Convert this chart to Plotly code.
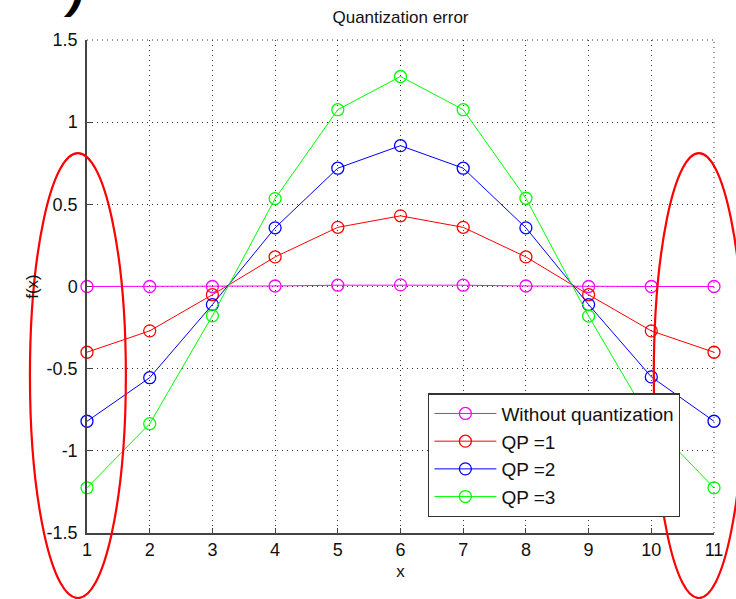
import plotly.graph_objects as go

x_vals = [1, 2, 3, 4, 5, 6, 7, 8, 9, 10, 11]
no_quant = [0, 0, 0, 0.003, 0.008, 0.01, 0.008, 0.003, 0, 0, 0]
qp1 = [-0.40, -0.27, -0.05, 0.18, 0.36, 0.43, 0.36, 0.18, -0.05, -0.27, -0.40]
qp2 = [-0.82, -0.555, -0.11, 0.357, 0.72, 0.857, 0.72, 0.357, -0.11, -0.55, -0.82]
qp3 = [-1.225, -0.835, -0.178, 0.535, 1.076, 1.278, 1.076, 0.537, -0.18, -0.83, -1.225]

series_names = ["Without quantization", "QP =1", "QP =2", "QP =3"]
series_vals = [no_quant, qp1, qp2, qp3]
series_colors = ["#ff00ff", "#ff0000", "#0000ff", "#00ff00"]

x_ticks = list(range(1, 12))
y_ticks = [-1.5, -1, -0.5, 0, 0.5, 1, 1.5]
y_tick_text = ["-1.5", "-1", "-0.5", "0", "0.5", "1", "1.5"]

X_RANGE = [1, 11]
Y_RANGE = [-1.5, 1.5]

FONT = "Liberation Sans, Arial, sans-serif"
TXT = "#111111"

fig = go.Figure()
for name, vals, col in zip(series_names, series_vals, series_colors):
    fig.add_trace(go.Scatter(
        x=x_vals, y=vals, name=name, mode="lines+markers",
        line=dict(color=col, width=1),
        marker=dict(symbol="circle-open", size=12, color=col, line=dict(width=1.3, color=col)),
        cliponaxis=False,
    ))


def to_paper_x(v):
    return (v - X_RANGE[0]) / (X_RANGE[1] - X_RANGE[0])


def to_paper_y(v):
    return (v - Y_RANGE[0]) / (Y_RANGE[1] - Y_RANGE[0])


# highlight ellipses (in data units, drawn in paper space so they are not clipped)
ellipses = [
    (0.09, 1.62, -1.896, 0.812),
    (10.04, 11.48, -1.896, 0.812),
]
for ex0, ex1, ey0, ey1 in ellipses:
    fig.add_shape(type="circle", xref="paper", yref="paper",
                  x0=to_paper_x(ex0), x1=to_paper_x(ex1),
                  y0=to_paper_y(ey0), y1=to_paper_y(ey1),
                  line=dict(color="#ff0000", width=2.2), layer="above")

# dotted border grid at top and right
fig.add_shape(type="line", xref="paper", yref="paper", x0=0, x1=1, y0=1, y1=1,
              line=dict(color="#333333", width=1, dash="1px,4px"))
fig.add_shape(type="line", xref="paper", yref="paper", x0=1, x1=1, y0=0, y1=1,
              line=dict(color="#333333", width=1, dash="1px,4px"))

# cropped ")" from a sub-figure label (only its lower part is inside the page)
fig.add_annotation(text="<b><i>)</i></b>", xref="paper", yref="paper",
                   x=to_paper_x(0.78), y=(533 - 19) / 493, xanchor="center", yanchor="bottom",
                   showarrow=False, font=dict(family=FONT, size=48, color="#000000"))

fig.update_layout(
    width=736, height=599,
    margin=dict(l=87, r=22, t=40, b=66),
    paper_bgcolor="white", plot_bgcolor="white",
    font=dict(family=FONT, size=17, color=TXT),
    title=dict(text="Quantization error", x=0.5, xref="paper", xanchor="center",
               y=1 - 17 / 599, yanchor="middle", font=dict(size=17, color=TXT)),
    showlegend=True,
    legend=dict(x=to_paper_x(6.44), y=to_paper_y(-0.65), xanchor="left", yanchor="top",
                bgcolor="white", bordercolor="#333333", borderwidth=1.3,
                font=dict(size=19, color=TXT), itemwidth=62, tracegroupgap=0),
)
fig.update_xaxes(range=X_RANGE, tickvals=x_ticks, ticks="inside", ticklen=5,
                 tickcolor="#444444", showline=True, linecolor="#444444", linewidth=1.5,
                 showgrid=True, gridcolor="#333333", griddash="1px,4px", gridwidth=1,
                 zeroline=False, title=dict(text="x", standoff=6, font=dict(size=17)),
                 tickfont=dict(size=18))
fig.update_yaxes(range=Y_RANGE, tickvals=y_ticks, ticktext=y_tick_text, ticks="inside", ticklen=5,
                 tickcolor="#444444", showline=True, linecolor="#444444", linewidth=1.5,
                 showgrid=True, gridcolor="#333333", griddash="1px,4px", gridwidth=1,
                 zeroline=False, title=dict(text="f(x)", standoff=4, font=dict(size=17)),
                 tickfont=dict(size=18), ticklabelstandoff=4)

fig.write_html("out.html")
